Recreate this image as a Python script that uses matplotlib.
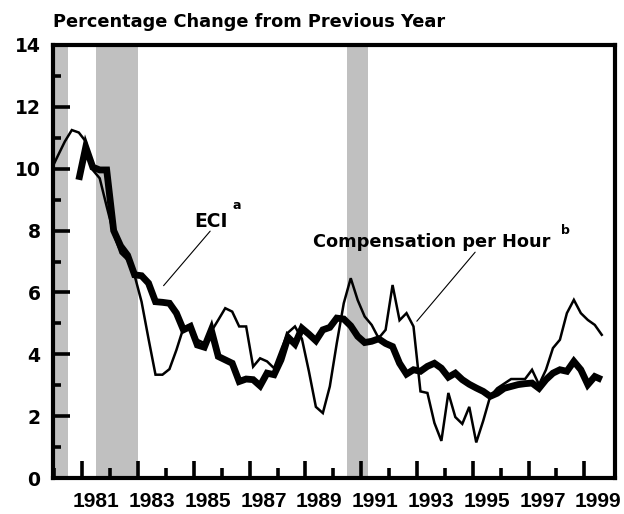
import matplotlib
matplotlib.use("Agg")
import matplotlib.pyplot as plt
from matplotlib.ticker import FixedLocator, MultipleLocator, NullFormatter
import numpy as np

# ---------------- data ----------------
# Compensation per hour, % change from previous year, quarterly from 1979Q4
comp_start = (1979, 4)
comp_values = [
    9.95,
    10.42, 10.88, 11.25, 11.17,
    10.88, 9.96, 9.69, 8.78,
    7.90, 7.27, 7.05, 6.55,
    5.70, 4.50, 3.34, 3.34,
    3.52, 4.14, 4.85, 4.95,
    4.47, 4.36, 4.74, 5.11,
    5.49, 5.38, 4.90, 4.90,
    3.60, 3.87, 3.77, 3.55,
    4.14, 4.70, 4.90, 4.50,
    3.45, 2.30, 2.10, 2.96,
    4.36, 5.65, 6.46, 5.75,
    5.22, 4.95, 4.52, 4.79,
    6.24, 5.10, 5.33, 4.90,
    2.80, 2.75, 1.78, 1.20,
    2.75, 1.97, 1.75, 2.30,
    1.15, 1.85, 2.64, 2.90,
    3.05, 3.20, 3.20, 3.20,
    3.50, 3.02, 3.50, 4.20,
    4.47, 5.33, 5.76, 5.33,
    5.11, 4.95, 4.63,
]
# Employment Cost Index, quarterly from 1980Q4
eci_start = (1980, 4)
eci_values = [
    9.64,
    10.70, 10.05, 9.96, 9.96,
    8.00, 7.50, 7.20, 6.57,
    6.54, 6.30, 5.70, 5.68,
    5.65, 5.33, 4.79, 4.90,
    4.30, 4.23, 4.79, 3.93,
    3.82, 3.71, 3.12, 3.20,
    3.18, 2.98, 3.39, 3.34,
    3.82, 4.55, 4.33, 4.84,
    4.65, 4.44, 4.79, 4.87,
    5.17, 5.14, 4.92, 4.58,
    4.38, 4.42, 4.50, 4.35,
    4.25, 3.71, 3.36, 3.50,
    3.45, 3.61, 3.71, 3.55,
    3.26, 3.39, 3.18, 3.03,
    2.91, 2.80, 2.64, 2.74,
    2.90, 2.96, 3.02, 3.05,
    3.07, 2.90, 3.18, 3.39,
    3.50, 3.45, 3.77, 3.50,
    3.02, 3.28, 3.18,
]
recession_start = [1980.0, 1981.5, 1990.5]
recession_end = [1980.5, 1983.0, 1991.25]
label_years = [1981, 1983, 1985, 1987, 1989, 1991, 1993, 1995, 1997, 1999]

title = "Percentage Change from Previous Year"


def quarter_positions(start, n):
    y, q = start
    base = y + (q - 0.5) / 4.0
    return base + 0.25 * np.arange(n)


comp_x = quarter_positions(comp_start, len(comp_values))
eci_x = quarter_positions(eci_start, len(eci_values))

# ---------------- figure ----------------
W, H = 624, 514
fig = plt.figure(figsize=(W / 100, H / 100), dpi=100)
ax = fig.add_axes([53 / W, 1 - 478 / H, (615 - 53) / W, (478 - 45) / H])

for s, e in zip(recession_start, recession_end):
    ax.axvspan(s, e, color="#c0c0c0", lw=0, zorder=0)

ax.plot(comp_x, comp_values, color="black", lw=1.8, zorder=3,
        solid_joinstyle="miter")
ax.plot(eci_x, eci_values, color="black", lw=4.9, zorder=4,
        solid_joinstyle="miter", solid_capstyle="butt")

ax.set_xlim(1979.95, 2000.1)
ax.set_ylim(0, 14)

for sp in ax.spines.values():
    sp.set_linewidth(3)
    sp.set_zorder(6)

# x ticks: tall at odd years, short at even years, labels centred in year
ax.xaxis.set_major_locator(FixedLocator(label_years))
ax.xaxis.set_minor_locator(FixedLocator([y + 1 for y in label_years[:-1]] + [1980]))
ax.xaxis.set_major_formatter(NullFormatter())
ax.tick_params(axis="x", which="major", direction="in", length=12, width=2.6)
ax.tick_params(axis="x", which="minor", direction="in", length=7, width=2.6)

sec = ax.secondary_xaxis("bottom")
sec.set_xticks([y + 0.5 for y in label_years])
sec.set_xticklabels([str(y) for y in label_years],
                    fontfamily="Liberation Sans", fontweight="bold", fontsize=15)
sec.tick_params(length=0, pad=10)
sec.spines["bottom"].set_visible(False)

# y ticks
ax.yaxis.set_major_locator(MultipleLocator(2))
ax.yaxis.set_minor_locator(MultipleLocator(1))
ax.tick_params(axis="y", which="major", direction="in", length=12, width=2.6, pad=9)
ax.tick_params(axis="y", which="minor", direction="in", length=6, width=2.6)
for lab in ax.get_yticklabels():
    lab.set_fontfamily("DejaVu Sans")
    lab.set_fontweight("bold")
    lab.set_fontsize(13.5)

# title
fig.text(53 / W, 1 - 27 / H, title, fontfamily="DejaVu Sans", fontweight="bold",
         fontsize=12.8, ha="left", va="baseline")

# annotations
ax.text(1985.0, 8.12, "ECI", fontfamily="DejaVu Sans", fontweight="bold",
        fontsize=13.5, ha="left", va="baseline", zorder=7)
ax.text(1986.55, 8.8, "a", fontfamily="DejaVu Sans", fontweight="bold",
        fontsize=9, ha="center", va="center", zorder=7)
ax.annotate("", xy=(1983.85, 6.15), xytext=(1985.65, 8.05),
            arrowprops=dict(arrowstyle="-", lw=0.8, color="black"), zorder=7)

ax.text(1989.27, 7.47, "Compensation per Hour", fontfamily="DejaVu Sans",
        fontweight="bold", fontsize=12.8, ha="left", va="baseline", zorder=7)
ax.text(1998.32, 8.0, "b", fontfamily="DejaVu Sans", fontweight="bold",
        fontsize=9, ha="center", va="center", zorder=7)
ax.annotate("", xy=(1992.93, 5.0), xytext=(1995.15, 7.37),
            arrowprops=dict(arrowstyle="-", lw=0.8, color="black"), zorder=7)

fig.savefig("out.png", dpi=100)
